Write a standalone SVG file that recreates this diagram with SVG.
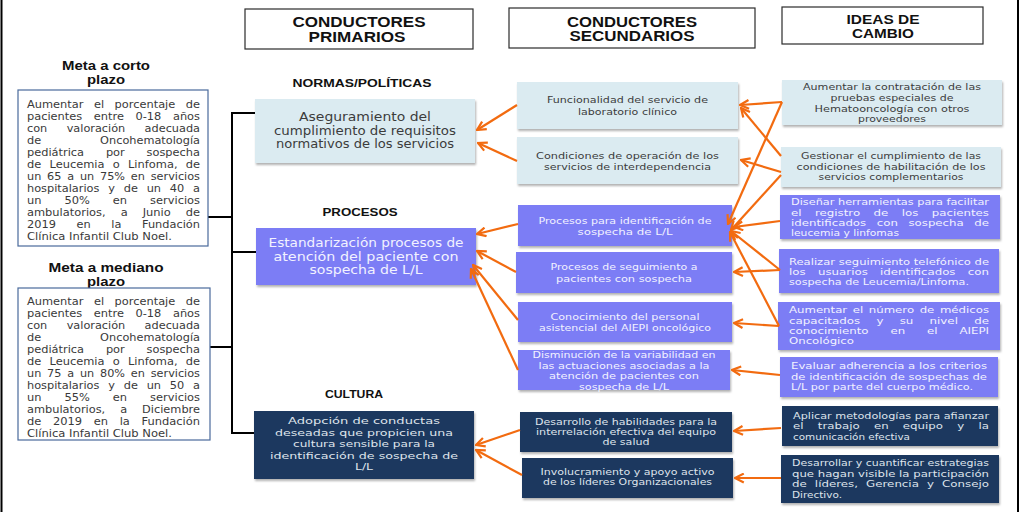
<svg xmlns="http://www.w3.org/2000/svg" width="1022" height="512" viewBox="0 0 1022 512">
<defs>
<style>
.hd{font-family:"Liberation Sans",Arial,sans-serif;font-weight:bold;fill:#111;text-anchor:middle}
.cat{font-family:"Liberation Sans",Arial,sans-serif;font-weight:bold;font-size:11.5px;fill:#111;text-anchor:middle}
.mt{font-family:"Liberation Sans",Arial,sans-serif;font-weight:bold;font-size:12px;fill:#111;text-anchor:middle}
.mb{font-family:"DejaVu Sans",sans-serif;font-size:10px;fill:#3a3a3a}
.pt{font-family:"DejaVu Sans",sans-serif;font-size:11.5px;text-anchor:middle}
.pts{font-family:"DejaVu Sans",sans-serif;font-size:9.4px;text-anchor:middle}
.st{font-family:"DejaVu Sans",sans-serif;font-size:9.5px;text-anchor:middle}
.it{font-family:"DejaVu Sans",sans-serif;font-size:9.5px}
.itc{font-family:"DejaVu Sans",sans-serif;font-size:9.5px;text-anchor:middle}
.dk{fill:#3c3c3c}
.wt{fill:#f2f2ff}
.nv{fill:#dfe4ec}
.lb{fill:#dbebf1}
.pw{fill:#7c7df5}
.nb{fill:#1c385e}
.hbox{fill:#fff;stroke:#2b2b2b;stroke-width:1.2}
.mbox{fill:#fff;stroke:#4a6a9c;stroke-width:1.2}
.con line{stroke:#f26b10;stroke-width:2.2;marker-end:url(#ah)}
.br{stroke:#000;stroke-width:2;fill:none}
</style>
<filter id="sh" x="-5%" y="-10%" width="112%" height="130%">
<feDropShadow dx="1" dy="2" stdDeviation="1" flood-color="#000" flood-opacity="0.3"/>
</filter>
<marker id="ah" viewBox="0 0 10 10" refX="9" refY="5" markerWidth="11" markerHeight="11" markerUnits="userSpaceOnUse" orient="auto">
<path d="M1,1 L9,5 L1,9" fill="none" stroke="#f26b10" stroke-width="2"/>
</marker>
</defs>
<rect x="0" y="0" width="1022" height="512" fill="#fff"/>
<line x1="1.5" y1="0" x2="1.5" y2="512" stroke="#000" stroke-width="2"/>
<line x1="1018" y1="0" x2="1018" y2="512" stroke="#000" stroke-width="2"/>

<!-- headers -->
<g id="hdr-primarios">
<rect class="hbox" x="245" y="9" width="228" height="40"/>
<text class="hd" x="359" y="27" font-size="14" textLength="133" lengthAdjust="spacingAndGlyphs">CONDUCTORES</text>
<text class="hd" x="357" y="42" font-size="14" textLength="97" lengthAdjust="spacingAndGlyphs">PRIMARIOS</text>
</g>
<g id="hdr-secundarios">
<rect class="hbox" x="509" y="8" width="246" height="40"/>
<text class="hd" x="632" y="27" font-size="14" textLength="130" lengthAdjust="spacingAndGlyphs">CONDUCTORES</text>
<text class="hd" x="632" y="41" font-size="14" textLength="125" lengthAdjust="spacingAndGlyphs">SECUNDARIOS</text>
</g>
<g id="hdr-ideas">
<rect class="hbox" x="782" y="7" width="201" height="37"/>
<text class="hd" x="883" y="24" font-size="13" textLength="73" lengthAdjust="spacingAndGlyphs">IDEAS DE</text>
<text class="hd" x="883" y="38" font-size="13" textLength="62" lengthAdjust="spacingAndGlyphs">CAMBIO</text>
</g>

<!-- category labels -->
<text class="cat" x="362" y="87" textLength="139" lengthAdjust="spacingAndGlyphs">NORMAS/POLÍTICAS</text>
<text class="cat" x="360" y="216" textLength="75" lengthAdjust="spacingAndGlyphs">PROCESOS</text>
<text class="cat" x="354" y="398" textLength="58" lengthAdjust="spacingAndGlyphs">CULTURA</text>

<!-- bracket -->
<g id="bracket">
<path class="br" d="M255,113 H232 V433 H254 M232,252 H256 M208,217 H232 M210,347 H232"/>
</g>

<!-- meta corto -->
<g id="meta-corto">
<text class="mt" x="106" y="70" textLength="88" lengthAdjust="spacingAndGlyphs">Meta a corto</text>
<text class="mt" x="106" y="84" textLength="38" lengthAdjust="spacingAndGlyphs">plazo</text>
<rect class="mbox" x="18" y="90" width="190" height="156"/>
<g class="mb">
<text x="27" y="108" textLength="173" lengthAdjust="spacingAndGlyphs" word-spacing="6">Aumentar el porcentaje de</text>
<text x="27" y="120" textLength="173" lengthAdjust="spacingAndGlyphs" word-spacing="7">pacientes entre 0-18 años</text>
<text x="27" y="132" textLength="173" lengthAdjust="spacingAndGlyphs" word-spacing="14">con valoración adecuada</text>
<text x="27" y="144" textLength="173" lengthAdjust="spacingAndGlyphs" word-spacing="49">de Oncohematología</text>
<text x="27" y="156" textLength="173" lengthAdjust="spacingAndGlyphs" word-spacing="16">pediátrica por sospecha</text>
<text x="27" y="168" textLength="173" lengthAdjust="spacingAndGlyphs" word-spacing="4">de Leucemia o Linfoma, de</text>
<text x="27" y="180" textLength="173" lengthAdjust="spacingAndGlyphs" word-spacing="2">un 65 a un 75% en servicios</text>
<text x="27" y="192" textLength="173" lengthAdjust="spacingAndGlyphs" word-spacing="4.6">hospitalarios y de un 40 a</text>
<text x="27" y="204" textLength="173" lengthAdjust="spacingAndGlyphs" word-spacing="17">un 50% en servicios</text>
<text x="27" y="216" textLength="173" lengthAdjust="spacingAndGlyphs" word-spacing="10">ambulatorios, a Junio de</text>
<text x="27" y="228" textLength="173" lengthAdjust="spacingAndGlyphs" word-spacing="15">2019 en la Fundación</text>
<text x="27" y="240" textLength="145" lengthAdjust="spacingAndGlyphs">Clínica Infantil Club Noel.</text>
</g>
</g>

<!-- meta mediano -->
<g id="meta-mediano">
<text class="mt" x="106" y="272" textLength="115" lengthAdjust="spacingAndGlyphs">Meta a mediano</text>
<text class="mt" x="106" y="286" textLength="38" lengthAdjust="spacingAndGlyphs">plazo</text>
<rect class="mbox" x="18" y="288" width="192" height="152"/>
<g class="mb">
<text x="27" y="305" textLength="173" lengthAdjust="spacingAndGlyphs" word-spacing="6">Aumentar el porcentaje de</text>
<text x="27" y="317" textLength="173" lengthAdjust="spacingAndGlyphs" word-spacing="7">pacientes entre 0-18 años</text>
<text x="27" y="329" textLength="173" lengthAdjust="spacingAndGlyphs" word-spacing="14">con valoración adecuada</text>
<text x="27" y="341" textLength="173" lengthAdjust="spacingAndGlyphs" word-spacing="49">de Oncohematología</text>
<text x="27" y="353" textLength="173" lengthAdjust="spacingAndGlyphs" word-spacing="16">pediátrica por sospecha</text>
<text x="27" y="365" textLength="173" lengthAdjust="spacingAndGlyphs" word-spacing="4">de Leucemia o Linfoma, de</text>
<text x="27" y="377" textLength="173" lengthAdjust="spacingAndGlyphs" word-spacing="2">un 75 a un 80% en servicios</text>
<text x="27" y="389" textLength="173" lengthAdjust="spacingAndGlyphs" word-spacing="4.6">hospitalarios y de un 50 a</text>
<text x="27" y="401" textLength="173" lengthAdjust="spacingAndGlyphs" word-spacing="17">un 55% en servicios</text>
<text x="27" y="413" textLength="173" lengthAdjust="spacingAndGlyphs" word-spacing="10">ambulatorios, a Diciembre</text>
<text x="27" y="425" textLength="173" lengthAdjust="spacingAndGlyphs" word-spacing="7">de 2019 en la Fundación</text>
<text x="27" y="437" textLength="145" lengthAdjust="spacingAndGlyphs">Clínica Infantil Club Noel.</text>
</g>
</g>

<!-- primary drivers -->
<g id="p-aseguramiento">
<rect class="lb" x="255" y="99" width="220" height="64" filter="url(#sh)"/>
<g class="pt dk">
<text x="365" y="121" textLength="132" lengthAdjust="spacingAndGlyphs">Aseguramiento del</text>
<text x="365" y="135" textLength="182" lengthAdjust="spacingAndGlyphs">cumplimiento de requisitos</text>
<text x="365" y="148" textLength="178" lengthAdjust="spacingAndGlyphs">normativos de los servicios</text>
</g>
</g>
<g id="p-estandarizacion">
<rect class="pw" x="256" y="228" width="220" height="57" filter="url(#sh)"/>
<g class="pt wt">
<text x="366" y="247" textLength="195" lengthAdjust="spacingAndGlyphs">Estandarización procesos de</text>
<text x="366" y="261" textLength="185" lengthAdjust="spacingAndGlyphs">atención del paciente con</text>
<text x="366" y="274" textLength="113" lengthAdjust="spacingAndGlyphs">sospecha de L/L</text>
</g>
</g>
<g id="p-adopcion">
<rect class="nb" x="254" y="411" width="220" height="68" filter="url(#sh)"/>
<g class="pts nv">
<text x="364" y="424" textLength="152" lengthAdjust="spacingAndGlyphs">Adopción de conductas</text>
<text x="364" y="435.6" textLength="178" lengthAdjust="spacingAndGlyphs">deseadas que propicien una</text>
<text x="364" y="447.2" textLength="142" lengthAdjust="spacingAndGlyphs">cultura sensible para la</text>
<text x="364" y="458.8" textLength="188" lengthAdjust="spacingAndGlyphs">identificación de sospecha de</text>
<text x="364" y="470.4" textLength="18" lengthAdjust="spacingAndGlyphs">L/L</text>
</g>
</g>

<!-- secondary drivers -->
<g id="s-funcionalidad">
<rect class="lb" x="517" y="82" width="221" height="47" filter="url(#sh)"/>
<g class="st dk">
<text x="627.5" y="103" textLength="161" lengthAdjust="spacingAndGlyphs">Funcionalidad del servicio de</text>
<text x="627.5" y="115" textLength="99" lengthAdjust="spacingAndGlyphs">laboratorio clínico</text>
</g>
</g>
<g id="s-condiciones">
<rect class="lb" x="517" y="137" width="221" height="47" filter="url(#sh)"/>
<g class="st dk">
<text x="627.5" y="159" textLength="183" lengthAdjust="spacingAndGlyphs">Condiciones de operación de los</text>
<text x="627.5" y="170" textLength="167" lengthAdjust="spacingAndGlyphs">servicios de interdependencia</text>
</g>
</g>
<g id="s-identificacion">
<rect class="pw" x="518" y="205" width="214" height="41" filter="url(#sh)"/>
<g class="st wt">
<text x="625" y="224" textLength="173" lengthAdjust="spacingAndGlyphs">Procesos para identificación de</text>
<text x="625" y="235" textLength="95" lengthAdjust="spacingAndGlyphs">sospecha de L/L</text>
</g>
</g>
<g id="s-seguimiento">
<rect class="pw" x="516" y="252" width="216" height="41" filter="url(#sh)"/>
<g class="st wt">
<text x="624" y="270" textLength="147" lengthAdjust="spacingAndGlyphs">Procesos de seguimiento a</text>
<text x="624" y="282" textLength="136" lengthAdjust="spacingAndGlyphs">pacientes con sospecha</text>
</g>
</g>
<g id="s-conocimiento">
<rect class="pw" x="518" y="302" width="214" height="40" filter="url(#sh)"/>
<g class="st wt">
<text x="625" y="320" textLength="149" lengthAdjust="spacingAndGlyphs">Conocimiento del personal</text>
<text x="625" y="331" textLength="172" lengthAdjust="spacingAndGlyphs">asistencial del AIEPI oncológico</text>
</g>
</g>
<g id="s-disminucion">
<rect class="pw" x="518" y="350" width="212" height="40" filter="url(#sh)"/>
<g class="st wt">
<text x="624" y="358" textLength="183" lengthAdjust="spacingAndGlyphs">Disminución de la variabilidad en</text>
<text x="624" y="369" textLength="171" lengthAdjust="spacingAndGlyphs">las actuaciones asociadas a la</text>
<text x="624" y="379" textLength="150" lengthAdjust="spacingAndGlyphs">atención de pacientes con</text>
<text x="624" y="390" textLength="90" lengthAdjust="spacingAndGlyphs">sospecha de L/L</text>
</g>
</g>
<g id="s-desarrollo">
<rect class="nb" x="520" y="412" width="212" height="40" filter="url(#sh)"/>
<g class="st nv">
<text x="626" y="425" textLength="182" lengthAdjust="spacingAndGlyphs">Desarrollo de habilidades para la</text>
<text x="626" y="435" textLength="180" lengthAdjust="spacingAndGlyphs">interrelación efectiva del equipo</text>
<text x="626" y="445" textLength="47" lengthAdjust="spacingAndGlyphs">de salud</text>
</g>
</g>
<g id="s-involucramiento">
<rect class="nb" x="522" y="458" width="211" height="40" filter="url(#sh)"/>
<g class="st nv">
<text x="627.5" y="475" textLength="174" lengthAdjust="spacingAndGlyphs">Involucramiento y apoyo activo</text>
<text x="627.5" y="485" textLength="169" lengthAdjust="spacingAndGlyphs">de los líderes Organizacionales</text>
</g>
</g>

<!-- ideas de cambio -->
<g id="i-contratacion">
<rect class="lb" x="782" y="80" width="220" height="45" filter="url(#sh)"/>
<g class="itc dk">
<text x="892" y="90" textLength="178" lengthAdjust="spacingAndGlyphs">Aumentar la contratación de las</text>
<text x="892" y="101" textLength="123" lengthAdjust="spacingAndGlyphs">pruebas especiales de</text>
<text x="892" y="112" textLength="155" lengthAdjust="spacingAndGlyphs">Hematooncología con otros</text>
<text x="892" y="122" textLength="68" lengthAdjust="spacingAndGlyphs">proveedores</text>
</g>
</g>
<g id="i-gestionar">
<rect class="lb" x="781" y="147" width="220" height="40" filter="url(#sh)"/>
<g class="itc dk">
<text x="891" y="159" textLength="180" lengthAdjust="spacingAndGlyphs">Gestionar el cumplimiento de las</text>
<text x="891" y="170" textLength="189" lengthAdjust="spacingAndGlyphs">condiciones de habilitación de los</text>
<text x="891" y="180" textLength="145" lengthAdjust="spacingAndGlyphs">servicios complementarios</text>
</g>
</g>
<g id="i-disenar">
<rect class="pw" x="780" y="195" width="220" height="44" filter="url(#sh)"/>
<g class="it wt">
<text x="791" y="205" textLength="198" lengthAdjust="spacingAndGlyphs">Diseñar herramientas para facilitar</text>
<text x="791" y="216" textLength="198" lengthAdjust="spacingAndGlyphs" word-spacing="7.8">el registro de los pacientes</text>
<text x="791" y="226" textLength="198" lengthAdjust="spacingAndGlyphs" word-spacing="5.5">identificados con sospecha de</text>
<text x="791" y="236" textLength="108" lengthAdjust="spacingAndGlyphs">leucemia y linfomas</text>
</g>
</g>
<g id="i-realizar">
<rect class="pw" x="779" y="249" width="220" height="44" filter="url(#sh)"/>
<g class="it wt">
<text x="789" y="265" textLength="200" lengthAdjust="spacingAndGlyphs">Realizar seguimiento telefónico de</text>
<text x="789" y="275" textLength="200" lengthAdjust="spacingAndGlyphs" word-spacing="6.9">los usuarios identificados con</text>
<text x="789" y="285" textLength="180" lengthAdjust="spacingAndGlyphs">sospecha de Leucemia/Linfoma.</text>
</g>
</g>
<g id="i-medicos">
<rect class="pw" x="778" y="302" width="222" height="48" filter="url(#sh)"/>
<g class="it wt">
<text x="789" y="313" textLength="200" lengthAdjust="spacingAndGlyphs" word-spacing="1.5">Aumentar el número de médicos</text>
<text x="789" y="324" textLength="200" lengthAdjust="spacingAndGlyphs" word-spacing="10">capacitados y su nivel de</text>
<text x="789" y="334" textLength="200" lengthAdjust="spacingAndGlyphs" word-spacing="14.6">conocimiento en el AIEPI</text>
<text x="789" y="344" textLength="65" lengthAdjust="spacingAndGlyphs">Oncológico</text>
</g>
</g>
<g id="i-evaluar">
<rect class="pw" x="780" y="357" width="218" height="40" filter="url(#sh)"/>
<g class="it wt">
<text x="791" y="369" textLength="196" lengthAdjust="spacingAndGlyphs">Evaluar adherencia a los criterios</text>
<text x="791" y="380" textLength="196" lengthAdjust="spacingAndGlyphs">de identificación de sospechas de</text>
<text x="791" y="390" textLength="182" lengthAdjust="spacingAndGlyphs">L/L por parte del cuerpo médico.</text>
</g>
</g>
<g id="i-aplicar">
<rect class="nb" x="782" y="406" width="216" height="40" filter="url(#sh)"/>
<g class="it nv">
<text x="793" y="419" textLength="196" lengthAdjust="spacingAndGlyphs">Aplicar metodologías para afianzar</text>
<text x="793" y="429" textLength="196" lengthAdjust="spacingAndGlyphs" word-spacing="8.5">el trabajo en equipo y la</text>
<text x="793" y="440" textLength="117" lengthAdjust="spacingAndGlyphs">comunicación efectiva</text>
</g>
</g>
<g id="i-desarrollar">
<rect class="nb" x="781" y="455" width="218" height="48" filter="url(#sh)"/>
<g class="it nv">
<text x="792" y="466" textLength="197" lengthAdjust="spacingAndGlyphs">Desarrollar y cuantificar estrategias</text>
<text x="792" y="477" textLength="197" lengthAdjust="spacingAndGlyphs">que hagan visible la participación</text>
<text x="792" y="487" textLength="197" lengthAdjust="spacingAndGlyphs" word-spacing="3.5">de líderes, Gerencia y Consejo</text>
<text x="792" y="498" textLength="50" lengthAdjust="spacingAndGlyphs">Directivo.</text>
</g>
</g>

<!-- connectors -->
<g id="connectors" class="con">
<line x1="517" y1="105" x2="477" y2="130"/>
<line x1="517" y1="161" x2="478" y2="143"/>
<line x1="518" y1="224" x2="477" y2="234"/>
<line x1="516" y1="272" x2="477" y2="251"/>
<line x1="518" y1="320" x2="473" y2="265"/>
<line x1="518" y1="370" x2="471" y2="269"/>
<line x1="520" y1="430" x2="476" y2="445"/>
<line x1="522" y1="475" x2="476" y2="450"/>
<line x1="782" y1="102" x2="740" y2="105"/>
<line x1="782" y1="102" x2="728" y2="224"/>
<line x1="781" y1="156" x2="741" y2="108"/>
<line x1="781" y1="172" x2="741" y2="160"/>
<line x1="781" y1="175" x2="731" y2="230"/>
<line x1="780" y1="221" x2="734" y2="227"/>
<line x1="780" y1="270" x2="734" y2="272"/>
<line x1="780" y1="270" x2="731" y2="231"/>
<line x1="779" y1="326" x2="734" y2="323"/>
<line x1="779" y1="326" x2="730" y2="232"/>
<line x1="780" y1="375" x2="732" y2="370"/>
<line x1="781" y1="428" x2="734" y2="431"/>
<line x1="781" y1="478" x2="735" y2="478"/>
</g>
</svg>
